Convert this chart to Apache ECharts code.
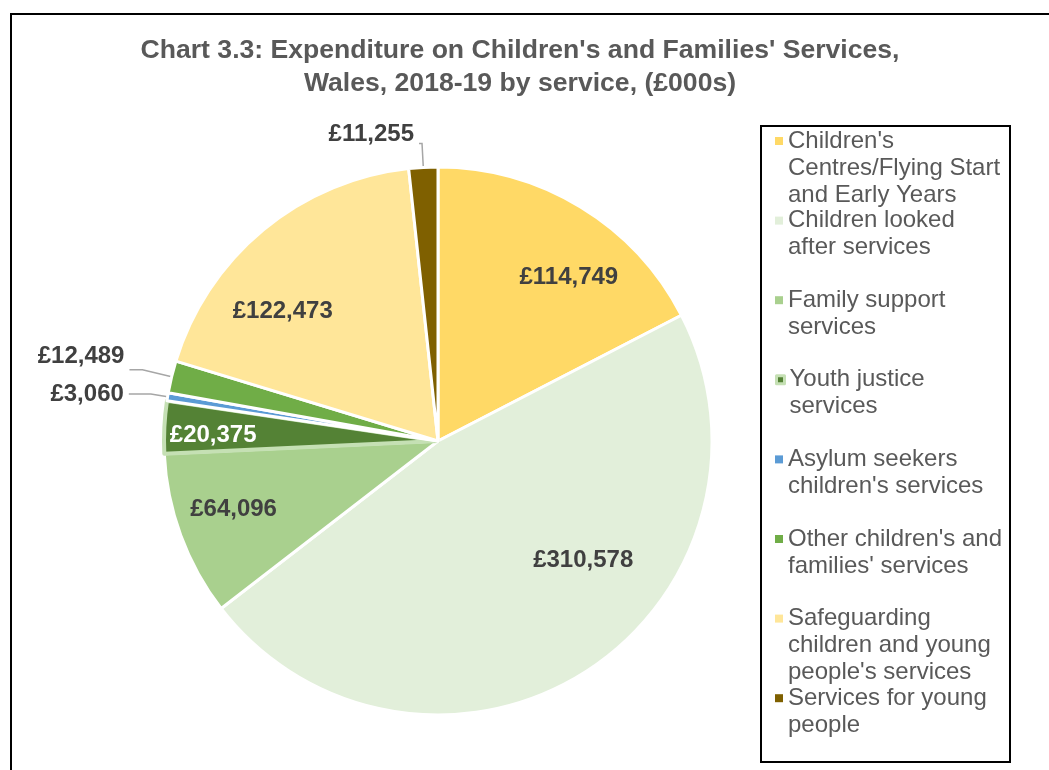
<!DOCTYPE html>
<html>
<head>
<meta charset="utf-8">
<script src="https://cdn.jsdelivr.net/npm/echarts@6/dist/echarts.min.js"></script>
<style>
  html, body { margin: 0; padding: 0; background: #ffffff; }
  #chart { width: 1049px; height: 770px; }
</style>
</head>
<body>
<div id="chart"></div>
<script>
// Expenditure on children's and families' services, Wales 2018-19 (£000s)
const categories = [
  "Children's Centres/Flying Start and Early Years",
  "Children looked after services",
  "Family support services",
  "Youth justice services",
  "Asylum seekers children's services",
  "Other children's and families' services",
  "Safeguarding children and young people's services",
  "Services for young people"
];
const legendLines = [
  "Children's\nCentres/Flying Start\nand Early Years",
  "Children looked\nafter services",
  "Family support\nservices",
  "Youth justice\nservices",
  "Asylum seekers\nchildren's services",
  "Other children's and\nfamilies' services",
  "Safeguarding\nchildren and young\npeople's services",
  "Services for young\npeople"
];
const values = [114749, 310578, 64096, 20375, 3060, 12489, 122473, 11255];
const colors = ['#FFD966', '#E2EFDA', '#A9D08E', '#548235', '#5B9BD5', '#70AD47', '#FFE699', '#7F6000'];

const FONT = "'Liberation Sans', Arial, sans-serif";
const total = values.reduce((a, b) => a + b, 0);
const highlighted = 3; // youth justice slice drawn with a pale outline

// label nudges (px) and leader-line lengths
const insideShift = { 0: [58, -44], 1: [70, 1], 2: [-73, 20], 3: [-85, 1], 6: [-66, -22] };
const outsideLine = { 4: [17, 22], 5: [30, 13], 7: [24, 3] };
const outsideShift = { 5: [0, -13], 7: [0, -9] };

const pieData = values.map((v, i) => {
  const small = v / total < 0.025;
  const item = {
    name: categories[i],
    value: v,
    itemStyle: { color: colors[i] },
    label: { position: small ? 'outside' : 'inside', color: i === highlighted ? '#ffffff' : '#404040' }
  };
  if (i === highlighted) {
    item.itemStyle.borderColor = '#C5E0B4';
    item.itemStyle.borderWidth = 4;
  }
  if (outsideLine[i]) {
    item.labelLine = { length: outsideLine[i][0], length2: outsideLine[i][1] };
  }
  return item;
});

// one legend per entry so each marker sits beside the first line of its text
const LINE_H = 27;
const legends = categories.map((name, i) => {
  const n = legendLines[i].split('\n').length;
  const firstLineY = 141 + i * 79.6;
  const d = { name: name };
  if (i === highlighted) d.itemStyle = { borderColor: '#C5E0B4', borderWidth: 3 };
  // blank lines above keep the marker level with the first text line
  const text = '\n'.repeat(n - 1) + legendLines[i];
  return {
    orient: 'vertical',
    left: 775,
    top: firstLineY - (n - 0.5) * LINE_H,
    padding: 0,
    icon: 'rect',
    itemWidth: 8,
    itemHeight: 8,
    selectedMode: false,
    itemStyle: { borderWidth: 0 },
    data: [d],
    formatter: () => text,
    textStyle: { fontFamily: FONT, fontSize: 24, lineHeight: LINE_H, color: '#595959' }
  };
});

const chart = echarts.init(document.getElementById('chart'), null, { renderer: 'canvas' });
chart.setOption({
  animation: false,
  backgroundColor: '#ffffff',
  title: {
    text: "Chart 3.3: Expenditure on Children's and Families' Services,\nWales, 2018-19 by service, (£000s)",
    left: 520,
    top: 34,
    padding: 0,
    textAlign: 'center',
    textStyle: { fontFamily: FONT, fontSize: 26.6, fontWeight: 'bold', color: '#595959', lineHeight: 33 }
  },
  legend: legends,
  graphic: [
    { type: 'rect', shape: { x: 11, y: 14, width: 1100, height: 800 },
      style: { fill: 'none', stroke: '#000000', lineWidth: 2 }, silent: true },
    { type: 'rect', shape: { x: 761, y: 126, width: 249, height: 636 },
      style: { fill: 'none', stroke: '#000000', lineWidth: 2 }, silent: true }
  ],
  series: [{
    type: 'pie',
    center: [438, 441],
    radius: 274,
    startAngle: 90,
    clockwise: true,
    avoidLabelOverlap: false,
    itemStyle: { borderColor: '#ffffff', borderWidth: 3 },
    label: {
      show: true,
      fontFamily: FONT,
      fontSize: 24,
      fontWeight: 'bold',
      color: '#404040',
      formatter: p => '£' + p.value.toLocaleString('en-GB'),
      distanceToLabelLine: 5
    },
    labelLine: { show: true, lineStyle: { color: '#A6A6A6', width: 1.5 } },
    labelLayout: p => {
      const s = insideShift[p.dataIndex] || outsideShift[p.dataIndex];
      return s ? { dx: s[0], dy: s[1] } : {};
    },
    emphasis: { disabled: true },
    data: pieData
  }]
});
</script>
</body>
</html>
